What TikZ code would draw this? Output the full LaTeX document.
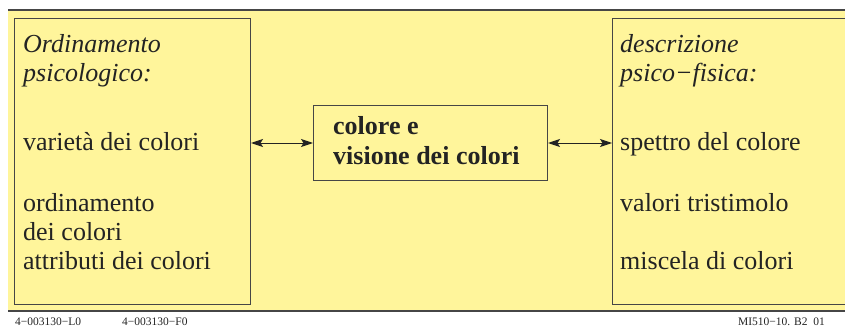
\documentclass[tikz,border=0pt]{standalone}
\usepackage{fontspec}
\setmainfont{Liberation Serif}
\usepackage{tikz}
\usetikzlibrary{arrows.meta, positioning}
\definecolor{paleyellow}{RGB}{255,245,155}
\definecolor{framegray}{RGB}{70,70,70}
\definecolor{inkgray}{RGB}{35,35,35}

\begin{document}
\begin{tikzpicture}[x=1pt, y=-1pt,
panel/.style={draw=framegray, line width=1pt, fill=paleyellow, anchor=north west, inner sep=0pt},
txt/.style={anchor=base west, inner sep=0pt, align=left, text=inkgray, font=\fontsize{26}{29}\selectfont},
itxt/.style={txt, font=\fontsize{26}{29}\selectfont\itshape},
btxt/.style={txt, font=\fontsize{26}{29}\selectfont\bfseries},
foot/.style={anchor=base west, inner sep=0pt, text=inkgray, font=\fontsize{11.5}{12}\selectfont},
link/.style={{Stealth[length=12pt,width=8pt,inset=2.5pt]}-{Stealth[length=12pt,width=8pt,inset=2.5pt]}, draw=inkgray, line width=1pt}]
\useasboundingbox (0,0) rectangle (845,326);
\clip (0,0) rectangle (845,326);
% yellow strip with rules at top and bottom
\fill[paleyellow] (8,10) rectangle (850,311);
\draw[framegray, line width=1.5pt] (8,10) -- (850,10);
\draw[framegray, line width=1.5pt] (8,311) -- (850,311);
% the three boxes
\node[panel, minimum width=236pt, minimum height=286pt] (psy) at (14,18) {};
\node[panel, minimum width=250pt, minimum height=286pt] (phys) at (612,18) {};
\node[panel, minimum width=234pt, minimum height=75pt] (core) at (313,105) {};
% left box texts (base = last line)
\node[itxt] (psyhead) at (23,82) {Ordinamento\\psicologico:};
\node[txt] (psyvar) at (23,150) {varietà dei colori};
\node[txt] (psyord) at (23,269) {ordinamento\\dei colori\\attributi dei colori};
% middle box text
\node[btxt] (coretext) at (333,164) {colore e\\visione dei colori};
% right box texts
\node[itxt] (physhead) at (620,82) {descrizione\\psico−fisica:};
\node[txt] (physspec) at (620,150) {spettro del colore};
\node[txt] (physval) at (620,211) {valori tristimolo};
\node[txt] (physmix) at (620,269) {miscela di colori};
% double arrows
\draw[link] (psy.east |- core.west) -- (core.west);
\draw[link] (core.east) -- (core.east -| phys.west);
% footer codes
\node[foot] (codeL) at (15,325) {4−003130−L0};
\node[foot] (codeF) at (122,325) {4−003130−F0};
\node[foot, anchor=base east] (codeM) at (825,325) {MI510−10. B2\ \ 01};
\end{tikzpicture}
\end{document}
